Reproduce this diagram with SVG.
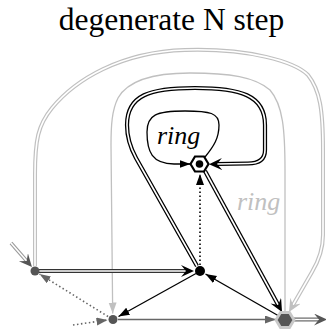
<svg xmlns="http://www.w3.org/2000/svg" width="326" height="334" viewBox="0 0 326 334">
<style>
text{font-family:"Liberation Serif","Times New Roman",serif}
.title{font-size:31.5px;fill:#000}
.lbl{font-size:26px;font-style:italic}
.e{fill:none}
.blk{stroke:#000;stroke-width:1.3}
.dotb{stroke:#000;stroke-width:1.6;stroke-dasharray:1.5,2.5}
.dotg{stroke:#666;stroke-width:1.6;stroke-dasharray:1.5,2.5}
.gry{stroke:#666;stroke-width:1.3}
.lgt{stroke:#c0c0c0;stroke-width:1.3}
.dbl-b{stroke:#000;stroke-width:4.2}
.dbl-d{stroke:#333;stroke-width:4.2}
.dbl-g{stroke:#666;stroke-width:4}
.dbl-m{stroke:#999;stroke-width:3.6}
.dbl-l{stroke:#c0c0c0;stroke-width:4}
.wht{stroke:#fff;stroke-width:1.6}
</style>
<defs>
<marker id="triB" markerUnits="userSpaceOnUse" orient="auto" markerWidth="12" markerHeight="9" refX="11" refY="4"><path d="M0,0 L11,4 L0,8 z" fill="#000"/></marker>
<marker id="triG" markerUnits="userSpaceOnUse" orient="auto" markerWidth="12" markerHeight="9" refX="11" refY="4"><path d="M0,0 L11,4 L0,8 z" fill="#666"/></marker>
<marker id="triL" markerUnits="userSpaceOnUse" orient="auto" markerWidth="12" markerHeight="9" refX="11" refY="4"><path d="M0,0 L11,4 L0,8 z" fill="#c0c0c0"/></marker>
<marker id="veeB" markerUnits="userSpaceOnUse" orient="auto" markerWidth="14" markerHeight="13" refX="5" refY="6"><path d="M0,0 L13,6 L0,12 L5,6 z" fill="#000"/></marker>
<marker id="veeD" markerUnits="userSpaceOnUse" orient="auto" markerWidth="14" markerHeight="13" refX="5" refY="6"><path d="M0,0 L13,6 L0,12 L5,6 z" fill="#555"/></marker>
<marker id="veeL" markerUnits="userSpaceOnUse" orient="auto" markerWidth="14" markerHeight="13" refX="5" refY="6"><path d="M0,0 L13,6 L0,12 L5,6 z" fill="#c0c0c0"/></marker>
</defs>

<text class="title" x="171.5" y="30" text-anchor="middle">degenerate N step</text>

<g id="connectors">
  <!-- outer light double loop C -> E -->
  <path class="e dbl-l" d="M35,266 L35,175 C35,140 38,125 52,108 C75,80 120,52 185,50 C250,48 295,62 308,75 C320,90 323,110 323,150 L323,235 C323,250 318,262 312,272 L293,305"/>
  <path class="e wht" marker-end="url(#veeL)" d="M35,266 L35,175 C35,140 38,125 52,108 C75,80 120,52 185,50 C250,48 295,62 308,75 C320,90 323,110 323,150 L323,235 C323,250 318,262 312,272 L293,305"/>
  <!-- inner light single loop E -> D -->
  <path class="e lgt" marker-end="url(#triL)" d="M285,312 L285,170 C285,130 283,105 270,90 C255,77 230,73 190,73 C150,73 127,82 118,98 C112,110 111,125 111,145 L112.7,313.5"/>
  <!-- black double loop B -> A -->
  <path class="e dbl-b" d="M197,266 L136,158 C130,147 127,137 127,125 C127,95 150,88 195,88 C240,88 265,95 265,125 L265,150 C265,160 258,163.5 248,163.5 L217,164"/>
  <path class="e wht" marker-end="url(#veeB)" d="M197,266 L136,158 C130,147 127,137 127,125 C127,95 150,88 195,88 C240,88 265,95 265,125 L265,150 C265,160 258,163.5 248,163.5 L217,164"/>
  <!-- self loop on A -->
  <path class="e blk" marker-end="url(#triB)" d="M205,157 C214,146 219,138 219,125 C219,113 210,111 185,111 C156,111 147,115 147,132 C147,152 152,163.5 174,164 L190.5,164"/>
  <!-- A -> E double black -->
  <path class="e dbl-b" d="M205,171 L278.2,305"/>
  <path class="e wht" marker-end="url(#veeB)" d="M205,171 L278.2,305"/>
  <!-- B -> A dotted -->
  <path class="e dotb" marker-end="url(#triB)" d="M200,265 L200,174"/>
  <!-- B -> D -->
  <path class="e blk" marker-end="url(#triB)" d="M196,273.5 L118.5,316.5"/>
  <!-- E -> B -->
  <path class="e blk" marker-end="url(#triB)" d="M278,315.5 L205.5,274"/>
  <!-- C -> B double -->
  <path class="e dbl-d" d="M39,271 L186,271"/>
  <path class="e wht" marker-end="url(#veeB)" d="M39,271 L186,271"/>
  <!-- D -> E gray -->
  <path class="e gry" marker-end="url(#triG)" d="M118,319.5 L276,319.5"/>
  <!-- D -> C dotted -->
  <path class="e dotg" marker-end="url(#triG)" d="M108,316.5 L39.5,274"/>
  <!-- incoming dotted to D -->
  <path class="e dotg" marker-end="url(#triG)" d="M73,325 L107.5,320"/>
  <!-- incoming double to C -->
  <path class="e dbl-m" d="M11,243 L26.7,261"/>
  <path class="e wht" marker-end="url(#veeD)" d="M11,243 L26.7,261"/>
  <!-- outgoing double from E -->
  <path class="e dbl-g" d="M294,319.5 L319,319.5"/>
  <path class="e wht" marker-end="url(#veeD)" d="M294,319.5 L319,319.5"/>
</g>

<text class="lbl" x="157" y="144" fill="#000">ring</text>
<text class="lbl" x="237" y="210" fill="#c0c0c0">ring</text>

<g id="nodeA">
  <polygon points="190.5,164 195,156.5 204,156.5 208.5,164 204,171.5 195,171.5" fill="#fff" stroke="#000" stroke-width="2.2"/>
  <circle cx="199.5" cy="164" r="3.8" fill="#000"/>
</g>
<g id="nodeB"><circle cx="200" cy="271" r="5" fill="#000"/></g>
<g id="nodeC"><circle cx="35" cy="271" r="4.5" fill="#555"/></g>
<g id="nodeD"><circle cx="113" cy="319.5" r="4.5" fill="#555"/></g>
<g id="nodeE">
  <polygon points="276,320 280.5,312.5 289.5,312.5 294,320 289.5,327.5 280.5,327.5" fill="#555" stroke="#c8c8c8" stroke-width="2.8"/>
</g>
</svg>
